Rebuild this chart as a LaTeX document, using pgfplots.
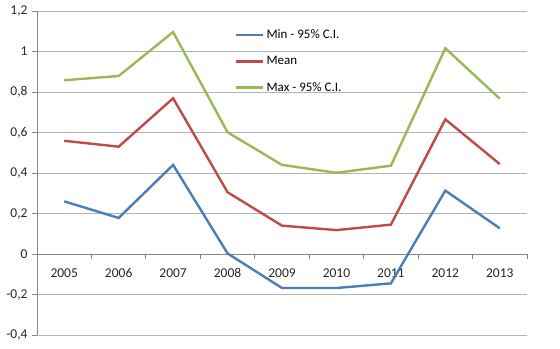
\documentclass[border=0pt]{standalone}
\usepackage{fontspec}
\setmainfont{Carlito}
\usepackage{pgfplots}
\pgfplotsset{compat=1.18}
\definecolor{cmin}{HTML}{4A7EBB}
\definecolor{cmean}{HTML}{BE4B48}
\definecolor{cmax}{HTML}{98B954}
\definecolor{gridc}{HTML}{B3B3B3}
\definecolor{axc}{HTML}{868686}
\begin{document}
\begin{tikzpicture}
\begin{axis}[
  scale only axis,
  width=490pt, height=324pt,
  xmin=0.5, xmax=9.5, ymin=-0.4, ymax=1.2,
  axis x line=middle, axis y line=left,
  axis line style={axc, line width=0.8pt, -},
  xtick={1,...,9},
  xticklabels={2005,2006,2007,2008,2009,2010,2011,2012,2013},
  minor xtick={0.5,1.5,...,9.5},
  ytick={-0.4,-0.2,0,0.2,0.4,0.6,0.8,1,1.2},
  ymajorgrids,
  major grid style={gridc, line width=0.8pt},
  major x tick style={draw=none},
  minor tick length=5pt,
  major tick length=5pt,
  tick align=outside,
  tick style={axc, line width=0.8pt},
  xticklabel style={yshift=-6pt},
  yticklabel style={xshift=-1pt},
  /pgf/number format/assume math mode=true,
  /pgf/number format/use comma,
  /pgf/number format/fixed,
  /pgf/number format/precision=1,
  tick label style={font=\fontsize{13.5}{15}\selectfont, text=black!85},
  legend style={draw=none, fill=none, at={(0.404,0.948)}, anchor=north west,
    font=\fontsize{13}{15}\selectfont, row sep=12pt, inner sep=0pt},
  legend cell align=left,
  legend image code/.code={\draw[#1] (0pt,0pt) -- (27pt,0pt);},
  clip=false,
]
\addplot[cmin, line width=2.4pt] coordinates {(1,0.26) (2,0.178) (3,0.44) (4,0.003) (5,-0.168) (6,-0.168) (7,-0.145) (8,0.313) (9,0.127)};
\addlegendentry{Min - 95\% C.I.}
\addplot[cmean, line width=2.4pt] coordinates {(1,0.559) (2,0.53) (3,0.769) (4,0.305) (5,0.14) (6,0.118) (7,0.145) (8,0.665) (9,0.444)};
\addlegendentry{Mean}
\addplot[cmax, line width=2.4pt] coordinates {(1,0.858) (2,0.879) (3,1.096) (4,0.601) (5,0.44) (6,0.401) (7,0.436) (8,1.016) (9,0.767)};
\addlegendentry{Max - 95\% C.I.}
\end{axis}
\pgfresetboundingbox
\path[use as bounding box] ([xshift=-37pt,yshift=-13pt]current axis.south west) rectangle ([xshift=33pt,yshift=11pt]current axis.north east);
\end{tikzpicture}
\end{document}
